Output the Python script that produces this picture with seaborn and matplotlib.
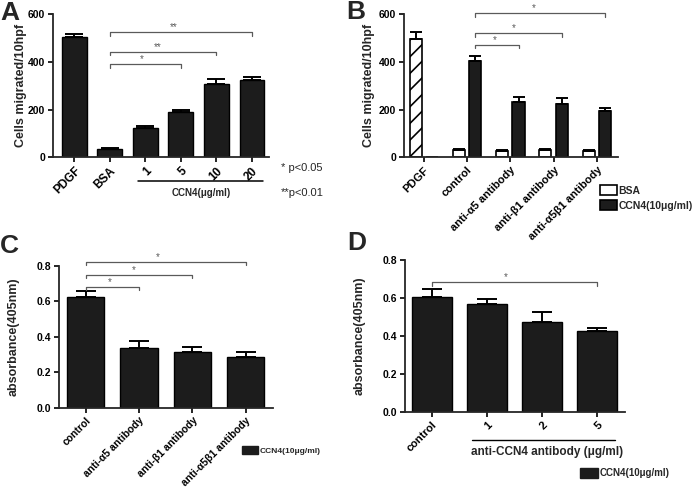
import numpy as np
import pandas as pd
import matplotlib.pyplot as plt
import seaborn as sns
from matplotlib.patches import Patch
from matplotlib.ticker import FormatStrFormatter

# ---- data ----
# A: migration vs CCN4 dose
a_labels = ["PDGF", "BSA", "1", "5", "10", "20"]
a_means = [502, 33, 124, 188, 307, 324]
a_err = [14, 5, 9, 9, 20, 14]
a_brackets = [(1, 3, 389, "*"), (1, 4, 442, "**"), (1, 5, 523, "**")]

# B: migration with integrin antibodies (first "BSA" slot of PDGF is the hatched PDGF bar)
b_groups = ["PDGF", "control", "anti-α5 antibody", "anti-β1 antibody", "anti-α5β1 antibody"]
b_hues = ["BSA", "CCN4(10μg/ml)"]
b_bsa = [494, 31, 27, 31, 28]
b_bsa_err = [32, 4, 3, 4, 3]
b_ccn4 = [0, 402, 233, 223, 193]
b_ccn4_err = [0, 22, 21, 25, 15]
b_brackets = [(1, 2, 470, "*"), (1, 3, 519, "*"), (1, 4, 603, "*")]

# C: absorbance with integrin antibodies
c_labels = ["control", "anti-α5 antibody", "anti-β1 antibody", "anti-α5β1 antibody"]
c_means = [0.62, 0.336, 0.315, 0.285]
c_err = [0.036, 0.039, 0.028, 0.028]
c_brackets = [(0, 1, 0.68, "*"), (0, 2, 0.746, "*"), (0, 3, 0.82, "*")]

# D: absorbance with anti-CCN4 antibody
d_labels = ["control", "1", "2", "5"]
d_means = [0.604, 0.567, 0.476, 0.427]
d_err = [0.042, 0.026, 0.049, 0.016]
d_brackets = [(0, 3, 0.683, "*")]

BAR = "#1c1c1c"
GREY = "#5a5a5a"
W, H = 692, 493

sns.set_style("ticks")
plt.rcParams["font.family"] = ["Liberation Sans", "DejaVu Sans"]
plt.rcParams["hatch.linewidth"] = 1.2
plt.rcParams["axes.linewidth"] = 1.3


def px_axes(left, right, top, bottom):
    return fig.add_axes([left / W, 1 - bottom / H, (right - left) / W, (bottom - top) / H])


def top_err(ax, bars, err, cap):
    xs, ys, es = [], [], []
    for p, e in zip(bars, err):
        if e > 0:
            xs.append(p.get_x() + p.get_width() / 2)
            ys.append(p.get_height())
            es.append(e)
    ax.errorbar(xs, ys, yerr=[np.zeros(len(es)), es], fmt="none", ecolor="black",
                elinewidth=1.4, capsize=cap, capthick=1.4, zorder=1)


def bracket(ax, x1, x2, h, txt, d):
    ax.plot([x1, x1, x2, x2], [h - d, h, h, h - d], color=GREY, lw=0.9, clip_on=False)
    ax.text(x1 + 0.45 * (x2 - x1), h, txt, ha="center", va="bottom", color=GREY,
            fontsize=7, clip_on=False)


def style(ax, labels, ylabel, xfs, pad):
    ax.set_xticks(range(len(labels)))
    ax.set_xticklabels(labels, rotation=45, ha="right", rotation_mode="anchor",
                       fontweight="bold", fontsize=xfs)
    ax.tick_params(axis="both", direction="out", length=3.5, width=1.2, colors="black",
                   pad=2)
    for t in ax.get_yticklabels():
        t.set_fontweight("bold")
        t.set_fontsize(7.5)
    ax.set_xlabel("")
    ax.set_ylabel(ylabel, fontweight="bold", fontsize=9, labelpad=pad)
    sns.despine(ax=ax)


fig = plt.figure(figsize=(W / 100, H / 100), dpi=100)

# ---- A ----
axA = px_axes(53, 269, 14, 157.3)
sns.barplot(x=a_labels, y=a_means, color=BAR, width=0.7, edgecolor="black",
            linewidth=1, errorbar=None, ax=axA)
top_err(axA, axA.containers[0], a_err, 6.5)
axA.set_xlim(-0.6, 5.48)
axA.set_ylim(0, 600)
axA.set_yticks([0, 200, 400, 600])
style(axA, a_labels, "Cells migrated/10hpf", 8.5, 1)
for x1, x2, h, s in a_brackets:
    bracket(axA, x1, x2, h, s, 14)
axA.plot([1.8, 5.3], [-0.165, -0.165], color="black", lw=1.1,
         transform=axA.get_xaxis_transform(), clip_on=False)
axA.text(3.56, -0.25, "CCN4(μg/ml)", transform=axA.get_xaxis_transform(),
         ha="center", va="center", fontsize=7, fontweight="bold")
fig.text(281 / W, 1 - 168 / H, "* p<0.05", fontsize=8, va="center")
fig.text(281 / W, 1 - 193 / H, "**p<0.01", fontsize=8, va="center")

# ---- B ----
axB = px_axes(404, 618, 14, 157.3)
dfB = pd.DataFrame({"group": b_groups * 2,
                    "treat": [b_hues[0]] * len(b_groups) + [b_hues[1]] * len(b_groups),
                    "value": b_bsa + b_ccn4})
sns.barplot(data=dfB, x="group", y="value", hue="treat", hue_order=b_hues,
            palette={b_hues[0]: "white", b_hues[1]: BAR}, width=0.76, gap=0.26,
            edgecolor="black", linewidth=1.2, errorbar=None, ax=axB)
bsa_bars, ccn_bars = axB.containers[0], axB.containers[1]
bsa_bars[0].set_hatch("//")
top_err(axB, bsa_bars, b_bsa_err, 4)
top_err(axB, ccn_bars, b_ccn4_err, 4)
axB.set_xlim(-0.46, 4.49)
axB.set_ylim(0, 600)
axB.set_yticks([0, 200, 400, 600])
style(axB, b_groups, "Cells migrated/10hpf", 8, 3)
off = 0.19
for x1, x2, h, s in b_brackets:
    bracket(axB, x1 + off, x2 + off, h, s, 14)
axB.get_legend().remove()
axB.legend(handles=[Patch(facecolor="white", edgecolor="black", linewidth=1.2),
                    Patch(facecolor=BAR, edgecolor="black", linewidth=1.2)],
           labels=b_hues, loc="upper left", bbox_to_anchor=(600 / W, 1 - 185 / H),
           bbox_transform=fig.transFigure, frameon=False, handlelength=1.6,
           handleheight=1.1, handletextpad=0.15, labelspacing=0.45, borderpad=0,
           borderaxespad=0, prop={"weight": "bold", "size": 7.5})

# ---- C ----
axC = px_axes(59, 273, 265.5, 407.7)
sns.barplot(x=c_labels, y=c_means, color=BAR, width=0.7, edgecolor="black",
            linewidth=1, errorbar=None, ax=axC)
top_err(axC, axC.containers[0], c_err, 7)
axC.set_xlim(-0.5, 3.51)
axC.set_ylim(0, 0.8)
axC.set_yticks([0, 0.2, 0.4, 0.6, 0.8])
axC.yaxis.set_major_formatter(FormatStrFormatter("%.1f"))
style(axC, c_labels, "absorbance(405nm)", 7.5, 12)
for x1, x2, h, s in c_brackets:
    bracket(axC, x1, x2, h, s, 0.018)
fig.legend(handles=[Patch(facecolor=BAR, edgecolor=BAR)], labels=["CCN4(10μg/ml)"],
           loc="upper left", bbox_to_anchor=(242 / W, 1 - 446 / H), frameon=False,
           handlelength=1.9, handleheight=1.1, handletextpad=0.2, borderpad=0,
           borderaxespad=0, prop={"weight": "bold", "size": 6})

# ---- D ----
axD = px_axes(405, 625, 260, 412.3)
sns.barplot(x=d_labels, y=d_means, color=BAR, width=0.72, edgecolor="black",
            linewidth=1, errorbar=None, ax=axD)
top_err(axD, axD.containers[0], d_err, 7.5)
axD.set_xlim(-0.49, 3.51)
axD.set_ylim(0, 0.8)
axD.set_yticks([0, 0.2, 0.4, 0.6, 0.8])
axD.yaxis.set_major_formatter(FormatStrFormatter("%.1f"))
style(axD, d_labels, "absorbance(405nm)", 8, 12)
for x1, x2, h, s in d_brackets:
    bracket(axD, x1, x2, h, s, 0.018)
axD.plot([0.73, 3.33], [-0.182, -0.182], color="black", lw=1.0,
         transform=axD.get_xaxis_transform(), clip_on=False)
axD.text(2.09, -0.26, "anti-CCN4 antibody (μg/ml)", transform=axD.get_xaxis_transform(),
         ha="center", va="center", fontsize=8.5, fontweight="bold")
fig.legend(handles=[Patch(facecolor=BAR, edgecolor=BAR)], labels=["CCN4(10μg/ml)"],
           loc="upper left", bbox_to_anchor=(580 / W, 1 - 468 / H), frameon=False,
           handlelength=1.9, handleheight=1.2, handletextpad=0.1, borderpad=0,
           borderaxespad=0, prop={"weight": "bold", "size": 7})

# panel letters
for x, y, s in [(0, 1, "A"), (346, 0, "B"), (0, 234, "C"), (347, 231, "D")]:
    fig.text(x / W, 1 - y / H, s, ha="left", va="top", fontsize=19, fontweight="bold")

fig.savefig("out.png", dpi=100)
